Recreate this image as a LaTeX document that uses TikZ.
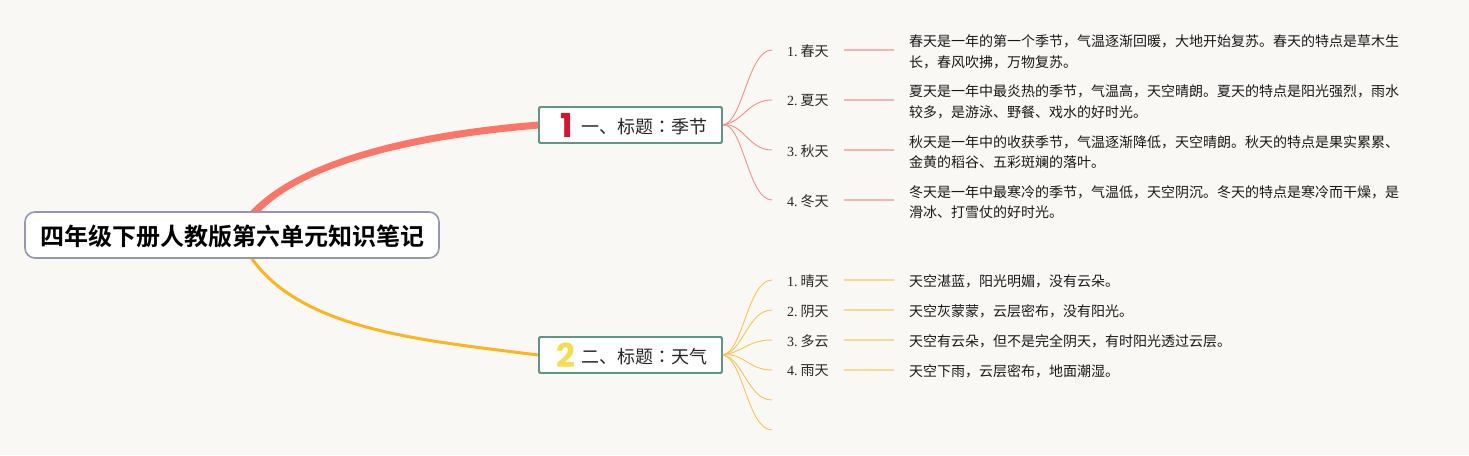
\documentclass[tikz,border=0pt]{standalone}
\usepackage{fontspec}
\usetikzlibrary{calc}
\setmainfont{Liberation Serif}
\newfontfamily\cjk{Noto Sans CJK SC}
\newfontfamily\cjktc{Noto Sans CJK TC}
\newfontfamily\cjkb{Noto Sans CJK SC Bold}
\newfontfamily\badge{Poppins Bold}
\definecolor{bgc}{HTML}{FAF8F5}
\definecolor{redb}{HTML}{FC7566}
\definecolor{yelb}{HTML}{FDB421}
\definecolor{redl}{HTML}{F48F82}
\definecolor{yell}{HTML}{FBC158}
\definecolor{redd}{HTML}{F5B5AC}
\definecolor{yeld}{HTML}{F9D896}
\definecolor{frame}{HTML}{5E9788}
\definecolor{rootf}{HTML}{9496B4}
\definecolor{badger}{HTML}{D9132F}
\definecolor{badgey}{HTML}{F5DC50}
\tikzset{
  x=1pt,y=-1pt,
  rootbox/.style={draw=rootf,line width=1.6pt,fill=white,rounded corners=10pt,minimum width=414pt,minimum height=46pt,inner sep=0pt},
  roottext/.style={inner sep=0pt,font=\cjkb\fontsize{24}{24}\selectfont},
  topicbox/.style={draw=frame,line width=1.8pt,fill=white,rounded corners=1.5pt,minimum width=183pt,minimum height=36pt,inner sep=0pt},
  topictext/.style={inner sep=0pt,anchor=west,font=\cjk\fontsize{18}{18}\selectfont,text=black!85},
  badgemark/.style={inner sep=0pt,font=\badge\fontsize{33}{33}\selectfont},
  leaflabel/.style={inner sep=0pt,anchor=west,font=\fontsize{14}{14}\selectfont,text=black!85,align=left},
  detail/.style={inner sep=0pt,anchor=west,align=left,font=\cjk\fontsize{14}{20.5}\selectfont,text=black!90},
  redcurve/.style={draw=redl,line width=0.9pt},
  yelcurve/.style={draw=yell,line width=0.9pt},
  reddash/.style={draw=redd,line width=1.8pt},
  yeldash/.style={draw=yeld,line width=1.8pt},
}
\newcommand{\lbl}[2]{#1.\kern3pt{\cjk #2}}
\begin{document}
\begin{tikzpicture}
\useasboundingbox[fill=bgc] (0,0) rectangle (1469,455);
% main branches
\coordinate (ra) at (247,215);
\coordinate (rb) at (257,215);
\coordinate (ya) at (250,256);
\node[topicbox] (t1) at (630.5,125) {};
\node[topicbox] (t2) at (630.5,355) {};
\fill[redb] (ra) .. controls (296,158) and (418,131) .. ($(t1.west)+(1,-3.5)$) -- ($(t1.west)+(1,3.5)$) .. controls (422,138) and (304,163) .. (rb) -- cycle;
\draw[yelb,line width=3pt] (ya) .. controls (300,330) and (420,340) .. (t2.west);
\node[rootbox] (root) at (232,235) {};
\node[roottext] (rt) at (232,236.5) {四年级下册人教版第六单元知识笔记};
\node[topicbox] at (t1) {};
\node[topicbox] at (t2) {};
\node[badgemark,text=badger] (b1) at (566.7,125) {1};
\node[badgemark,text=badgey] (b2) at (566,355) {2};
\node[topictext] (tt1) at (581,126.3) {一、标题{\cjktc ：}季节};
\node[topictext] (tt2) at (581,356.3) {二、标题{\cjktc ：}天气};
% red leaves
\foreach \n/\y/\lab/\txt in {
 1/50/\lbl{1}{春天}/{春天是一年的第一个季节，气温逐渐回暖，大地开始复苏。春天的特点是草木生\\长，春风吹拂，万物复苏。},
 2/100/\lbl{2}{夏天}/{夏天是一年中最炎热的季节，气温高，天空晴朗。夏天的特点是阳光强烈，雨水\\较多，是游泳、野餐、戏水的好时光。},
 3/150/\lbl{3}{秋天}/{秋天是一年中的收获季节，气温逐渐降低，天空晴朗。秋天的特点是果实累累、\\金黄的稻谷、五彩斑斓的落叶。},
 4/200/\lbl{4}{冬天}/{冬天是一年中最寒冷的季节，气温低，天空阴沉。冬天的特点是寒冷而干燥，是\\滑冰、打雪仗的好时光。}}{
  \node[leaflabel] (a\n) at (787,\y+1) {\lab};
  \node[detail] (da\n) at (909,\y+2) {\txt};
  \coordinate (ae\n) at (772,\y);
  \draw[redcurve] (t1.east) .. controls (743,122) and (748,\y) .. (ae\n);
  \draw[reddash] (a\n.east |- ae\n) ++(15,0) -- (894,\y);
}
\foreach \n/\y/\lab/\txt in {
 1/280/\lbl{1}{晴天}/{天空湛蓝，阳光明媚，没有云朵。},
 2/310/\lbl{2}{阴天}/{天空灰蒙蒙，云层密布，没有阳光。},
 3/340/\lbl{3}{多云}/{天空有云朵，但不是完全阴天，有时阳光透过云层。},
 4/370/\lbl{4}{雨天}/{天空下雨，云层密布，地面潮湿。}}{
  \node[leaflabel] (c\n) at (787,\y+1) {\lab};
  \node[detail] (dc\n) at (909,\y+1) {\txt};
  \coordinate (ce\n) at (772,\y);
  \draw[yelcurve] (t2.east) .. controls (743,352) and (748,\y) .. (ce\n);
  \draw[yeldash] (c\n.east |- ce\n) ++(15,0) -- (894,\y);
}
\coordinate (ce5) at (772,400);
\coordinate (ce6) at (772,430);
\draw[yelcurve] (t2.east) .. controls (743,358) and (748,400) .. (ce5);
\draw[yelcurve] (t2.east) .. controls (743,358) and (748,430) .. (ce6);
\end{tikzpicture}
\end{document}
